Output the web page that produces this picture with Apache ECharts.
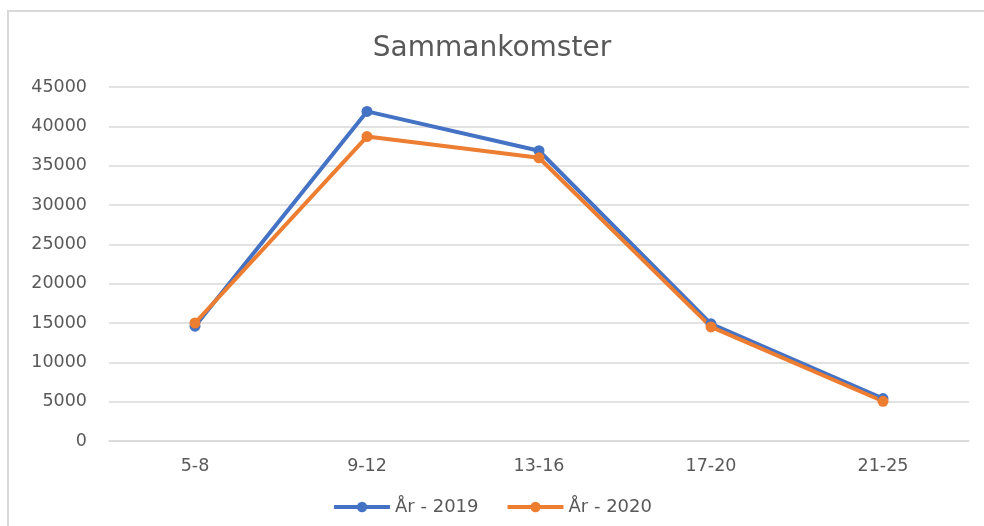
<!DOCTYPE html>
<html><head><meta charset="utf-8">
<script src="https://cdn.jsdelivr.net/npm/echarts@6/dist/echarts.min.js"></script>
<style>html,body{margin:0;padding:0;background:#fff}#c{width:984px;height:526px}</style>
</head><body><div id="c"></div>
<script>
const categories = ['5-8', '9-12', '13-16', '17-20', '21-25'];
const series2019 = [14600, 41900, 36900, 14900, 5400];
const series2020 = [15000, 38700, 36000, 14500, 5050];
const yTicks = [0, 5000, 10000, 15000, 20000, 25000, 30000, 35000, 40000, 45000];
const seriesNames = ['År - 2019', 'År - 2020'];
const title = 'Sammankomster';

const font = '"DejaVu Sans", "Open Sans", sans-serif';
const chart = echarts.init(document.getElementById('c'), null, {renderer: 'canvas'});
chart.setOption({
  animation: false,
  backgroundColor: '#fff',
  graphic: [{
    type: 'rect', shape: {x: 8, y: 11, width: 1000, height: 540},
    style: {fill: 'none', stroke: '#D9D9D9', lineWidth: 2}, silent: true, z: -1
  }],
  title: {
    text: title, left: 'center', top: 30,
    textStyle: {fontFamily: font, fontSize: 28, fontWeight: 'normal', color: '#595959'}
  },
  legend: {
    bottom: 5, left: 'center', itemWidth: 56, itemHeight: 13, itemGap: 27,
    textStyle: {fontFamily: font, fontSize: 18, color: '#595959'},
    lineStyle: {width: 4},
    data: seriesNames
  },
  grid: {left: 109, right: 15, top: 87, bottom: 85, containLabel: false},
  xAxis: {
    type: 'category', data: categories, boundaryGap: true,
    axisLine: {show: true, lineStyle: {color: '#D9D9D9', width: 1.5}},
    axisTick: {show: false},
    axisLabel: {fontFamily: font, fontSize: 17.5, color: '#595959', margin: 16}
  },
  yAxis: {
    type: 'value', min: yTicks[0], max: yTicks[yTicks.length - 1], interval: 5000,
    axisLine: {show: false}, axisTick: {show: false},
    splitLine: {lineStyle: {color: '#D9D9D9', width: 1.5}},
    axisLabel: {fontFamily: font, fontSize: 17.5, color: '#595959', margin: 22,
      formatter: function (v) { return String(v); }}
  },
  series: [
    {name: seriesNames[0], type: 'line', data: series2019, symbol: 'circle', symbolSize: 11,
      itemStyle: {color: '#4472C4'}, lineStyle: {width: 4, color: '#4472C4'}},
    {name: seriesNames[1], type: 'line', data: series2020, symbol: 'circle', symbolSize: 11,
      itemStyle: {color: '#ED7D31'}, lineStyle: {width: 4, color: '#ED7D31'}}
  ]
});
</script></body></html>
